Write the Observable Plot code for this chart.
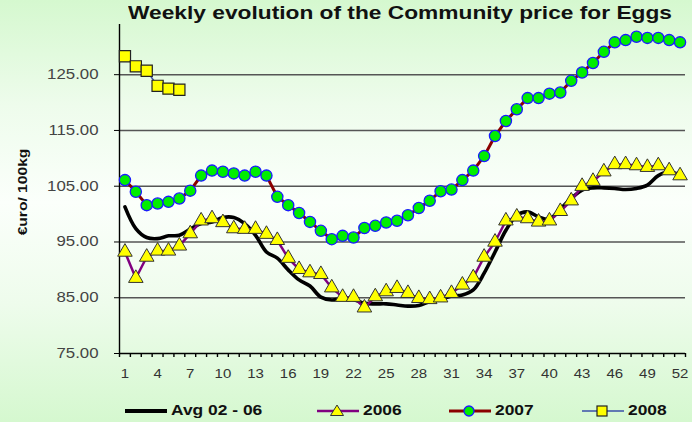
<!DOCTYPE html>
<html>
<head>
<meta charset="utf-8">
<script src="https://cdn.jsdelivr.net/npm/d3@7"></script>
<script src="https://cdn.jsdelivr.net/npm/@observablehq/plot@0.6"></script>
<style>
  html, body { margin: 0; padding: 0; }
  #chart {
    position: relative; width: 692px; height: 422px; overflow: hidden;
    background: linear-gradient(to bottom, #d5f8cf 0%, #eefcec 25%, #fbfffb 48%, #eefcec 72%, #d5f8cf 100%);
    font-family: "Liberation Sans", Arial, sans-serif;
  }
  #title {
    position: absolute; left: 128px; top: 3px; white-space: nowrap;
    font-weight: bold; font-size: 18px; color: #111; transform-origin: left top;
  }
  #ylabel {
    position: absolute; left: 22px; top: 192px; white-space: nowrap;
    font-weight: bold; font-size: 13px; color: #111;
    transform: translate(-50%, -50%) rotate(-90deg) scaleX(1.2);
  }
  #plot { position: absolute; left: 0; top: 0; }
  .leg { position: absolute; top: 402px; height: 18px; }
  .leg svg { position: absolute; top: 0; }
  .leg span { position: absolute; top: 0px; font-weight: bold; font-size: 14.5px; color: #111; white-space: nowrap; transform-origin: left center; transform: scaleX(1.2); }
</style>
</head>
<body>
<div id="chart">
  <div id="plot"></div>
  <div id="title">Weekly evolution of the Community price for Eggs</div>
  <div id="ylabel">€uro/ 100kg</div>
  <div id="legend"></div>
</div>
<script>
// ---- data ----
const weeks = [1,2,3,4,5,6,7,8,9,10,11,12,13,14,15,16,17,18,19,20,21,22,23,24,25,26,
               27,28,29,30,31,32,33,34,35,36,37,38,39,40,41,42,43,44,45,46,47,48,49,50,51,52];
const avg0206 = [101.3,97.4,95.8,95.6,96.1,96.2,97.3,98.3,98.6,99.4,99.4,98.3,96.2,93.2,92.1,90.0,88.2,87.1,85.1,84.6,84.9,84.7,84.0,83.9,83.9,83.7,
                 83.5,83.6,84.3,84.7,85.3,85.5,86.4,89.4,93.2,97.1,99.8,100.4,99.5,99.1,100.9,102.8,104.3,104.7,104.7,104.6,104.4,104.6,105.2,106.9,107.6,107.0];
const y2006 = [93.2,88.5,92.3,93.4,93.4,94.3,96.5,98.8,99.2,98.5,97.4,97.3,97.3,96.4,95.3,92.1,90.1,89.5,89.2,86.8,85.1,85.1,83.2,85.2,86.1,86.7,
               85.8,84.9,84.7,85.0,85.8,87.3,88.6,92.3,95.0,98.8,99.5,99.2,98.6,98.8,100.5,102.4,105.0,105.9,107.6,108.9,108.9,108.7,108.4,108.7,107.8,106.9];
const y2007 = [106.1,104.0,101.6,101.9,102.2,102.8,104.2,106.9,107.8,107.6,107.3,106.9,107.6,106.9,103.1,101.6,100.2,98.6,97.0,95.5,96.1,95.8,97.5,97.9,98.5,98.8,
               99.8,101.1,102.4,104.1,104.4,106.1,107.8,110.4,114.0,116.7,118.8,120.8,120.8,121.6,121.8,123.9,125.4,127.1,129.1,130.8,131.2,131.8,131.6,131.6,131.2,130.8];
const y2008 = [128.3,126.5,125.7,123.0,122.5,122.3];
const yTicks = [75,85,95,105,115,125];
const xTickLabels = [1,4,7,10,13,16,19,22,25,28,31,34,37,40,43,46,49,52];
const seriesNames = ["Avg 02 - 06","2006","2007","2008"];

const toRows = (vals) => vals.map((v, i) => ({week: weeks[i], value: v}));
const dAvg = toRows(avg0206), d06 = toRows(y2006), d07 = toRows(y2007), d08 = toRows(y2008);
const betweenTicks = d3.range(0.5, 53, 1);

const plot = Plot.plot({
  width: 692, height: 390,
  marginLeft: 119, marginRight: 7, marginTop: 24, marginBottom: 37,
  style: {background: "transparent", fontFamily: "'Liberation Sans', Arial, sans-serif", overflow: "visible"},
  x: {domain: [0.5, 52.5]},
  y: {domain: [75, 134]},
  marks: [
    Plot.gridY(yTicks.filter(d => d > 75), {stroke: "#555", strokeOpacity: 1, strokeWidth: 1.4}),
    Plot.axisY(yTicks, {tickSize: 5, tickPadding: 16, tickFormat: d => d.toFixed(2), fontSize: 14, fill: "#444", stroke: "#000", label: null, className: "yax"}),
    Plot.axisX(betweenTicks, {tickSize: 4, tickFormat: () => "", label: null, stroke: "#000", strokeWidth: 1.4}),
    Plot.axisX(xTickLabels, {tickSize: 0, tickPadding: 16, fontSize: 12.5, fill: "#333", label: null, className: "xax"}),
    Plot.ruleX([0.5], {stroke: "#000", strokeWidth: 1.4}),
    Plot.ruleY([75], {stroke: "#000", strokeWidth: 1.4}),
    // Avg 02-06
    Plot.line(dAvg, {x: "week", y: "value", stroke: "#000", strokeWidth: 3.6, curve: "catmull-rom"}),
    // 2006
    Plot.line(d06, {x: "week", y: "value", stroke: "#800080", strokeWidth: 2.5}),
    Plot.dot(d06, {x: "week", y: "value", symbol: "triangle", r: 5.4, fill: "#ffff00", stroke: "#333", strokeWidth: 1}),
    // 2007
    Plot.line(d07, {x: "week", y: "value", stroke: "#8b0000", strokeWidth: 3}),
    Plot.dot(d07, {x: "week", y: "value", symbol: "circle", r: 5.6, fill: "#00ee00", stroke: "#1a1aff", strokeWidth: 1.3}),
    // 2008
    Plot.line(d08, {x: "week", y: "value", stroke: "#3a4fa8", strokeWidth: 1.5}),
    Plot.dot(d08, {x: "week", y: "value", symbol: "square", r: 6.3, fill: "#ffff00", stroke: "#222", strokeWidth: 1.2})
  ]
});
document.getElementById("plot").appendChild(plot);

// horizontally stretch tick labels like the original chart
plot.querySelectorAll(".yax text, .xax text").forEach(t => {
  const w = t.getComputedTextLength();
  if (w > 0) { t.setAttribute("textLength", w * 1.2); t.setAttribute("lengthAdjust", "spacingAndGlyphs"); }
});

// title width fit
const title = document.getElementById("title");
const tw = title.getBoundingClientRect().width;
title.style.transform = `scaleX(${544 / tw})`;

// legend
const legend = document.getElementById("legend");
const legItems = [
  {name: seriesNames[0], left: 125, line: "#000", lw: 4, sym: null},
  {name: seriesNames[1], left: 317, line: "#800080", lw: 2.5, sym: "triangle"},
  {name: seriesNames[2], left: 449, line: "#8b0000", lw: 3, sym: "circle"},
  {name: seriesNames[3], left: 582, line: "#3a4fa8", lw: 1.5, sym: "square"}
];
legItems.forEach(it => {
  const div = document.createElement("div");
  div.className = "leg";
  div.style.left = it.left + "px";
  let symSvg = "";
  if (it.sym === "triangle") symSvg = `<path d="M20,3 L26.5,13.5 L13.5,13.5 Z" fill="#ffff00" stroke="#333" stroke-width="1"/>`;
  if (it.sym === "circle") symSvg = `<circle cx="20" cy="9" r="5" fill="#00ee00" stroke="#1a1aff" stroke-width="1.3"/>`;
  if (it.sym === "square") symSvg = `<rect x="15" y="4" width="10" height="10" fill="#ffff00" stroke="#222" stroke-width="1.2"/>`;
  const lineLen = 42;
  div.innerHTML = `<svg width="44" height="18"><line x1="0" x2="${lineLen}" y1="9" y2="9" stroke="${it.line}" stroke-width="${it.lw}"/>${symSvg}</svg><span style="left:${lineLen + 4}px">${it.name}</span>`;
  legend.appendChild(div);
});
</script>
</body>
</html>
